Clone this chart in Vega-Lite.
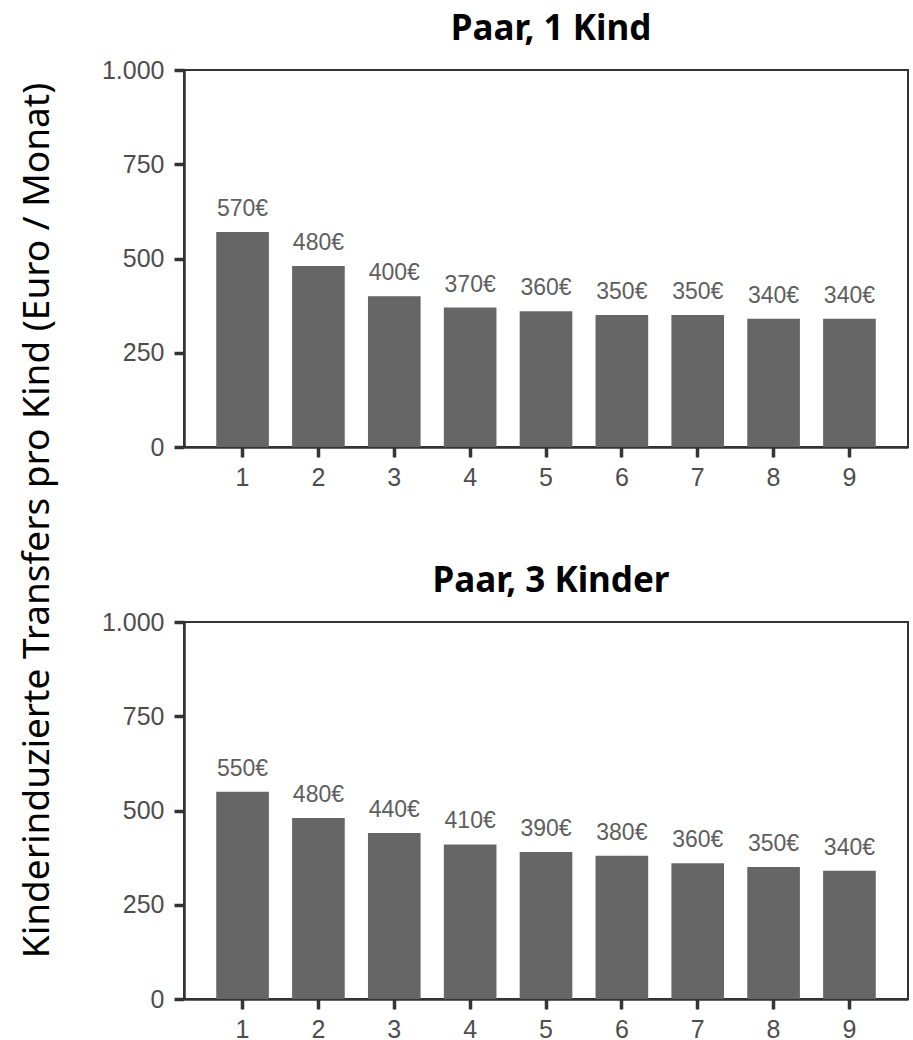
{
  "$schema": "https://vega.github.io/schema/vega-lite/v6.json",
  "background": "white",
  "padding": {"left": 16, "top": 11, "right": 5, "bottom": 5},
  "bounds": "flush",
  "spacing": 175,
  "datasets": {
    "p1": [
      {"k": 1, "value": 570, "label": "570€"},
      {"k": 2, "value": 480, "label": "480€"},
      {"k": 3, "value": 400, "label": "400€"},
      {"k": 4, "value": 370, "label": "370€"},
      {"k": 5, "value": 360, "label": "360€"},
      {"k": 6, "value": 350, "label": "350€"},
      {"k": 7, "value": 350, "label": "350€"},
      {"k": 8, "value": 340, "label": "340€"},
      {"k": 9, "value": 340, "label": "340€"}
    ],
    "p2": [
      {"k": 1, "value": 550, "label": "550€"},
      {"k": 2, "value": 480, "label": "480€"},
      {"k": 3, "value": 440, "label": "440€"},
      {"k": 4, "value": 410, "label": "410€"},
      {"k": 5, "value": 390, "label": "390€"},
      {"k": 6, "value": 380, "label": "380€"},
      {"k": 7, "value": 360, "label": "360€"},
      {"k": 8, "value": 350, "label": "350€"},
      {"k": 9, "value": 340, "label": "340€"}
    ]
  },
  "vconcat": [
    {
      "title": {"text": "Paar, 1 Kind"},
      "width": 724,
      "height": 377,
      "data": {"name": "p1"},
      "encoding": {
        "x": {"field": "k", "type": "ordinal", "scale": {"paddingInner": 0.306, "paddingOuter": 0.425}, "axis": {"title": null, "labelAngle": 0, "labelPadding": 8}},
        "y": {"field": "value", "type": "quantitative", "scale": {"domain": [0, 1000], "nice": false}, "axis": {"values": [0, 250, 500, 750, 1000], "labelExpr": "replace(format(datum.value, ','), ',', '.')", "labelPadding": 10, "title": "Kinderinduzierte Transfers pro Kind (Euro / Monat)", "titleFont": "Noto Sans", "titleFontSize": 37, "titleFontWeight": "normal", "titleColor": "black", "titleBaseline": "alphabetic", "titleAngle": -90, "titleAlign": "center", "titleX": -136, "titleY": 450}}
      },
      "layer": [
        {"mark": {"type": "bar", "color": "#666666"}},
        {"mark": {"type": "text", "baseline": "alphabetic", "dy": -16, "font": "Liberation Sans", "fontSize": 23, "color": "#5e5e5e"}, "encoding": {"text": {"field": "label"}}}
      ]
    },
    {
      "title": {"text": "Paar, 3 Kinder"},
      "width": 724,
      "height": 377,
      "data": {"name": "p2"},
      "encoding": {
        "x": {"field": "k", "type": "ordinal", "scale": {"paddingInner": 0.306, "paddingOuter": 0.425}, "axis": {"title": null, "labelAngle": 0, "labelPadding": 8}},
        "y": {"field": "value", "type": "quantitative", "scale": {"domain": [0, 1000], "nice": false}, "axis": {"values": [0, 250, 500, 750, 1000], "labelExpr": "replace(format(datum.value, ','), ',', '.')", "labelPadding": 10, "title": null}}
      },
      "layer": [
        {"mark": {"type": "bar", "color": "#666666"}},
        {"mark": {"type": "text", "baseline": "alphabetic", "dy": -16, "font": "Liberation Sans", "fontSize": 23, "color": "#5e5e5e"}, "encoding": {"text": {"field": "label"}}}
      ]
    }
  ],
  "config": {
    "view": {"stroke": "#333333", "strokeWidth": 2},
    "axis": {"labelFont": "Liberation Sans", "labelFontSize": 25, "labelColor": "#4d4d4d", "domainColor": "#333333", "domainWidth": 2.5, "tickColor": "#333333", "tickWidth": 3.5, "tickSize": 10, "grid": false},
    "title": {"font": "Noto Sans", "fontSize": 35, "fontWeight": "bold", "color": "black", "anchor": "middle", "baseline": "alphabetic", "offset": 11, "dx": 5}
  }
}
